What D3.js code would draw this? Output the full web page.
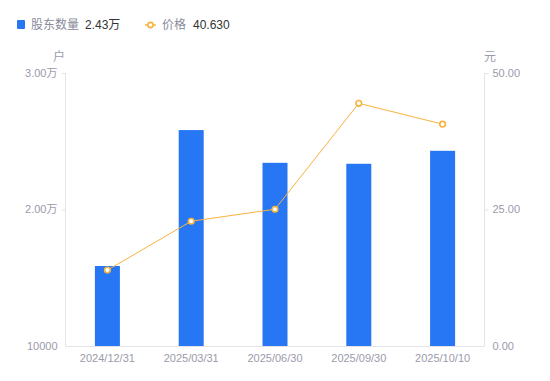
<!DOCTYPE html>
<html><head><meta charset="utf-8">
<script src="https://cdn.jsdelivr.net/npm/d3@7"></script>
<style>body{margin:0;background:#fff;font-family:"Liberation Sans","Noto Sans CJK SC",sans-serif;}</style>
</head><body><svg id="c" width="550" height="381"></svg>
<script>
const categories = ["2024/12/31","2025/03/31","2025/06/30","2025/09/30","2025/10/10"];
const holders = [15860, 25820, 23420, 23350, 24300];
const prices = [13.9, 22.85, 25.05, 44.45, 40.63];
const leftTicks = [10000, 20000, 30000];
const leftTickLabels = ["10000", "2.00万", "3.00万"];
const rightTicks = [0, 25, 50];
const rightTickLabels = ["0.00", "25.00", "50.00"];
const legendNames = ["股东数量", "价格"];
const legendValues = ["2.43万", "40.630"];

const svg = d3.select("#c");
const L = 65.5, R = 484.5, T = 73, B = 346;
const blue = "#2777f5", orange = "#f8b33e", grey = "#9b9bab", axisC = "#e3e3e8";
const x = d3.scaleBand().domain(categories).range([L, R]).paddingInner(0).paddingOuter(0);
const yL = d3.scaleLinear().domain([10000, 30000]).range([B, T]);
const yR = d3.scaleLinear().domain([0, 50]).range([B, T]);
const bw = 25;

svg.append("line").attr("x1",L).attr("x2",L).attr("y1",T).attr("y2",B).attr("stroke",axisC);
svg.append("line").attr("x1",R).attr("x2",R).attr("y1",T).attr("y2",B).attr("stroke",axisC);
svg.append("line").attr("x1",L).attr("x2",R).attr("y1",B+0.5).attr("y2",B+0.5).attr("stroke",axisC);

leftTicks.forEach((v,i)=>{
  const y = yL(v);
  if (i>0) svg.append("line").attr("x1",L-4).attr("x2",L).attr("y1",y+0.5).attr("y2",y+0.5).attr("stroke",axisC);
  svg.append("text").attr("x",L-8).attr("y",y).attr("dy","0.35em").attr("text-anchor","end")
    .attr("font-size",11).attr("fill",grey).text(leftTickLabels[i]);
});
rightTicks.forEach((v,i)=>{
  const y = yR(v);
  if (i>0) svg.append("line").attr("x1",R).attr("x2",R+4).attr("y1",y+0.5).attr("y2",y+0.5).attr("stroke",axisC);
  svg.append("text").attr("x",R+8).attr("y",y).attr("dy","0.35em").attr("text-anchor","start")
    .attr("font-size",11).attr("fill",grey).text(rightTickLabels[i]);
});
svg.append("text").attr("x",59).attr("y",57).attr("dy","0.35em").attr("text-anchor","middle").attr("font-size",12).attr("fill",grey).text("户");
svg.append("text").attr("x",490).attr("y",57).attr("dy","0.35em").attr("text-anchor","middle").attr("font-size",12).attr("fill",grey).text("元");

categories.forEach(c=>{
  svg.append("text").attr("x",x(c)+x.bandwidth()/2).attr("y",358).attr("dy","0.35em").attr("text-anchor","middle")
    .attr("font-size",11).attr("fill",grey).text(c);
});

svg.selectAll("rect.bar").data(holders).join("rect").attr("class","bar")
  .attr("x",(d,i)=>x(categories[i])+x.bandwidth()/2-bw/2).attr("width",bw)
  .attr("y",d=>yL(d)).attr("height",d=>B-yL(d)).attr("fill",blue);

const line = d3.line().x((d,i)=>x(categories[i])+x.bandwidth()/2).y(d=>yR(d));
svg.append("path").datum(prices).attr("d",line).attr("fill","none").attr("stroke",orange).attr("stroke-width",1);
svg.selectAll("circle.pt").data(prices).join("circle").attr("class","pt")
  .attr("cx",(d,i)=>x(categories[i])+x.bandwidth()/2).attr("cy",d=>yR(d)).attr("r",2.8)
  .attr("fill","#fff").attr("stroke",orange).attr("stroke-width",1.6);

svg.append("rect").attr("x",17).attr("y",20).attr("width",8).attr("height",9).attr("rx",1).attr("fill",blue);
svg.append("text").attr("x",31).attr("y",25).attr("dy","0.35em").attr("font-size",12).attr("fill","#8a8a9a").text(legendNames[0]);
svg.append("text").attr("x",85).attr("y",25).attr("dy","0.35em").attr("font-size",12).attr("fill","#333").text(legendValues[0]);
svg.append("line").attr("x1",145).attr("x2",156).attr("y1",25).attr("y2",25).attr("stroke",orange).attr("stroke-width",1.5);
svg.append("circle").attr("cx",150.5).attr("cy",25).attr("r",2.6).attr("fill","#fff").attr("stroke",orange).attr("stroke-width",1.6);
svg.append("text").attr("x",162).attr("y",25).attr("dy","0.35em").attr("font-size",12).attr("fill","#8a8a9a").text(legendNames[1]);
svg.append("text").attr("x",193).attr("y",25).attr("dy","0.35em").attr("font-size",12).attr("fill","#333").text(legendValues[1]);
</script></body></html>
